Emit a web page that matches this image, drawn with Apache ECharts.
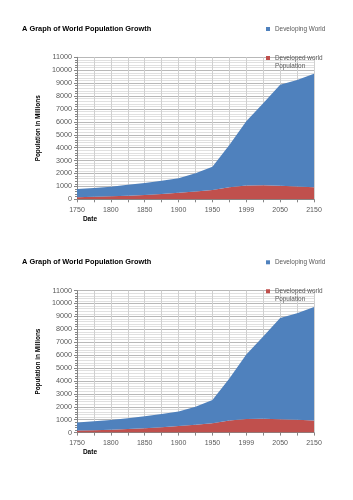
<!DOCTYPE html>
<html>
<head>
<meta charset="utf-8">
<script src="https://cdn.jsdelivr.net/npm/echarts@6/dist/echarts.min.js"></script>
<style>
  html, body { margin: 0; padding: 0; background: #fff; }
  #chart { width: 353px; height: 500px; }
</style>
</head>
<body>
<div id="chart"></div>
<script>
// category axis, one point every half label step (only every other one is labelled)
const years = ['1750', '1775', '1800', '1825', '1850', '1875', '1900', '1925', '1950', '1975', '1999', '2025', '2050', '2100', '2150']
// stacked values, millions
const developed = [160, 190, 230, 280, 330, 420, 510, 610, 720, 930, 1060, 1080, 1040, 990, 940]
const developing = [630, 690, 750, 840, 940, 1020, 1120, 1400, 1800, 3270, 4990, 6370, 7830, 8250, 8780]

const titleText = 'A Graph of World Population Growth'
const devName = 'Developing World'
const dvdName = 'Developed world Population'

const blue = '#4F81BD'
const red = '#C0504D'
const grey = '#595959'
const font = 'Liberation Sans'

const offsets = [0, 233.3]

var myChart = echarts.init(document.getElementById('chart'))

var titles = []
var legends = []
var grids = []
var xAxes = []
var yAxes = []
var series = []

offsets.forEach((off, i) => {
    titles.push({
        text: titleText,
        left: 22,
        top: 25 + off,
        padding: 0,
        textStyle: { fontFamily: font, fontSize: 7.4, fontWeight: 'bold', color: '#000' }
    })
    legends.push({
        data: [devName],
        left: 266,
        top: 26 + off,
        padding: 0,
        itemWidth: 4,
        itemHeight: 4,
        icon: 'rect',
        textStyle: { fontFamily: font, fontSize: 6.4, color: grey }
    })
    // tall icon box with the square drawn at its top, so it lines up with the first text line
    legends.push({
        data: [dvdName],
        left: 266,
        top: 53.5 + off,
        padding: 0,
        itemWidth: 4,
        itemHeight: 12,
        icon: 'path://M0,0H4V4H0Z M0,11.9H0.01V12H0Z',
        formatter: (name) => name.replace(' Population', '\nPopulation'),
        textStyle: { fontFamily: font, fontSize: 6.4, color: grey, lineHeight: 8.5 }
    })
    grids.push({ left: 77, right: 39, top: 57.3 + off, height: 142 })
    xAxes.push({
        type: 'category',
        gridIndex: i,
        data: years,
        boundaryGap: false,
        name: 'Date',
        nameLocation: 'start',
        nameGap: -20,
        nameTextStyle: { fontFamily: font, fontSize: 6.5, fontWeight: 'bold', color: '#000', align: 'right', verticalAlign: 'top', padding: [16, 0, 0, 0] },
        axisLine: { lineStyle: { color: '#868686' } },
        axisTick: { interval: 0, length: 3, lineStyle: { color: '#868686' } },
        axisLabel: { interval: 1, fontFamily: font, fontSize: 7, color: grey, margin: 7 },
        splitLine: { show: true, interval: 0, lineStyle: { color: '#d0d0d0', width: 1 } }
    })
    yAxes.push({
        type: 'value',
        gridIndex: i,
        min: 0,
        max: 11000,
        interval: 1000,
        name: 'Population in Millions',
        nameLocation: 'middle',
        nameGap: 29,
        nameTextStyle: { fontFamily: font, fontSize: 6.4, fontWeight: 'bold', color: '#000' },
        axisLine: { show: true, lineStyle: { color: '#868686' } },
        axisTick: { show: true, length: 3, lineStyle: { color: '#868686' } },
        minorTick: { show: true, splitNumber: 5, length: 2, lineStyle: { color: '#868686' } },
        axisLabel: { fontFamily: font, fontSize: 7.2, color: grey, margin: 5, formatter: (v) => String(v) },
        splitLine: { lineStyle: { color: '#b8b8b8', width: 1 } },
        minorSplitLine: { show: true, lineStyle: { color: '#e0e0e0', width: 1 } }
    })
    series.push({
        name: dvdName,
        type: 'line',
        xAxisIndex: i,
        yAxisIndex: i,
        stack: 'pop' + i,
        data: developed,
        symbol: 'none',
        lineStyle: { width: 0 },
        itemStyle: { color: red },
        areaStyle: { color: red, opacity: 1 }
    })
    series.push({
        name: devName,
        type: 'line',
        xAxisIndex: i,
        yAxisIndex: i,
        stack: 'pop' + i,
        data: developing,
        symbol: 'none',
        lineStyle: { width: 0 },
        itemStyle: { color: blue },
        areaStyle: { color: blue, opacity: 1 }
    })
})

option = {
    animation: false,
    backgroundColor: '#fff',
    title: titles,
    legend: legends,
    grid: grids,
    xAxis: xAxes,
    yAxis: yAxes,
    series: series
}
myChart.setOption(option)
</script>
</body>
</html>
